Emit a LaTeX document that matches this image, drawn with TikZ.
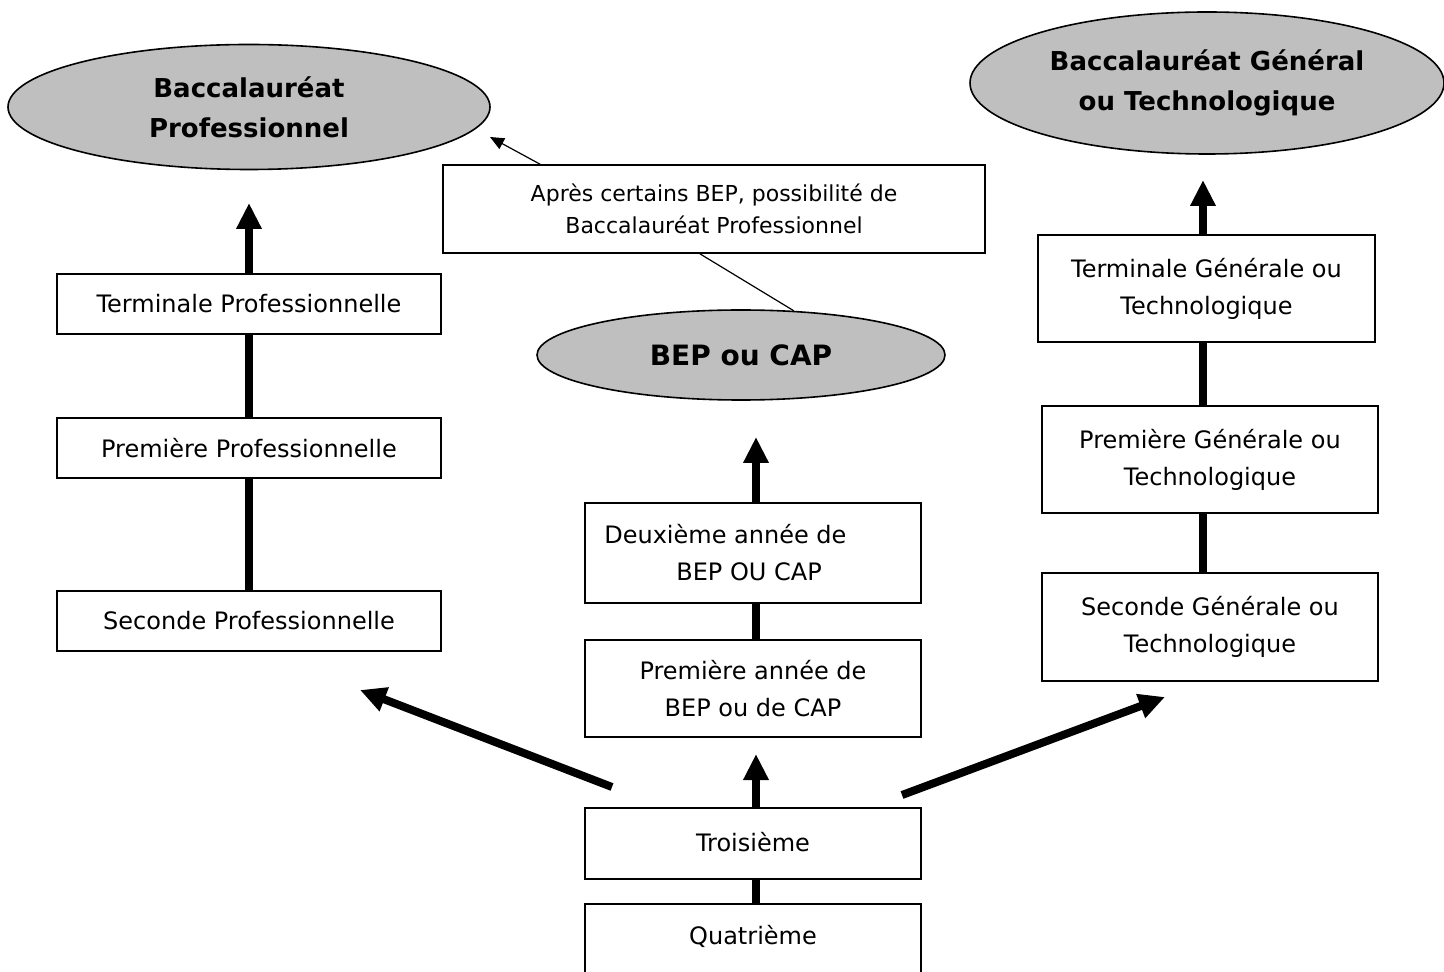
\documentclass[tikz,border=0pt]{standalone}
\usepackage{fontspec}
\setmainfont{DejaVu Sans}
\usetikzlibrary{calc,arrows.meta,shapes.geometric}

\begin{document}
\begin{tikzpicture}[x=0.5pt,y=-0.5pt,
  boite/.style={draw,line width=0.8pt,minimum width=168pt,align=center,inner sep=0pt,font=\fontsize{12}{18.5}\selectfont},
  bac/.style={ellipse,draw,line width=0.8pt,fill=black!25,align=center,inner sep=0pt,font=\bfseries\fontsize{13}{20}\selectfont},
  fleche/.style={line width=4pt,-{Triangle[length=13pt,width=12pt]}},
  trait/.style={line width=4pt}]
\path[use as bounding box,clip] (0,0) rectangle (1444,972);

% les baccalaureats et le BEP
\node[bac,minimum width=241pt,minimum height=62.5pt] (bacpro) at (249,107) {Baccalauréat\\Professionnel};
\node[bac,minimum width=237pt,minimum height=71pt] (bacgen) at (1207,83) {Baccalauréat Général\\ou Technologique};
\node[bac,minimum width=204pt,minimum height=45pt,font=\bfseries\fontsize{14}{20}\selectfont] (bep) at (741,355) {BEP ou CAP};
\node[boite,minimum width=271pt,minimum height=44pt,font=\fontsize{11}{16}\selectfont] (apres) at (714,209) {Après certains BEP, possibilité de\\Baccalauréat Professionnel};

% voie professionnelle
\node[boite,minimum width=192pt,minimum height=30pt] (tpro) at (249,304) {Terminale Professionnelle};
\node[boite,minimum width=192pt,minimum height=30pt] (ppro) at (249,448) {Première Professionnelle};
\node[boite,minimum width=192pt,minimum height=30pt] (spro) at (249,621) {Seconde Professionnelle};

% college et BEP/CAP
\node[boite,minimum height=50pt,align=left] (deux) at (753,553) {Deuxième année de\hspace*{2.3em}\\\hspace*{3em}BEP OU CAP};
\node[boite,minimum height=48.5pt] (prem) at (753,688.5) {Première année de\\BEP ou de CAP};
\node[boite,minimum height=35.5pt] (trois) at (753,843.5) {\raisebox{2pt}{Troisième}};
\node[boite,minimum height=48pt,text depth=17pt] (quatre) at (753,952) {Quatrième};

% voie generale et technologique
\node[boite,minimum width=168.5pt,minimum height=53.5pt] (tgen) at (1206.5,288.5) {Terminale Générale ou\\Technologique};
\node[boite,minimum height=53.5pt] (pgen) at (1210,459.5) {Première Générale ou\\Technologique};
\node[boite,minimum height=54pt] (sgen) at (1210,627) {Seconde Générale ou\\Technologique};

% extremites libres
\coordinate (hpro) at (249,203);
\coordinate (hbep) at (756,437);
\coordinate (hprem) at (756,754);
\coordinate (hgen) at (1203,180);
\coordinate (dgauche) at (612,787);
\coordinate (fgauche) at (360,690);
\coordinate (ddroite) at (902,795);
\coordinate (fdroite) at (1165,697);
\coordinate (fapres) at (490,137);

% fleches
\draw[fleche] (tpro.north) -- (hpro);
\draw[trait] (ppro.north) -- (tpro.south);
\draw[trait] (spro.north) -- (ppro.south);
\draw[fleche] (deux.north -| hbep) -- (hbep);
\draw[trait] (prem.north -| hbep) -- (deux.south -| hbep);
\draw[fleche] (trois.north -| hprem) -- (hprem);
\draw[trait] (quatre.north -| hprem) -- (trois.south -| hprem);
\draw[fleche] (tgen.north -| hgen) -- (hgen);
\draw[trait] (pgen.north -| hgen) -- (tgen.south -| hgen);
\draw[trait] (sgen.north -| hgen) -- (pgen.south -| hgen);
\draw[fleche] (dgauche) -- (fgauche);
\draw[fleche] (ddroite) -- (fdroite);
\draw[line width=0.6pt,-{Triangle[length=7pt,width=6pt]}] ($(apres.north west)!0.18!(apres.north east)$) -- (fapres);
\draw[line width=0.6pt] ($(apres.south west)!0.474!(apres.south east)$) -- (bep.40);
\end{tikzpicture}
\end{document}
